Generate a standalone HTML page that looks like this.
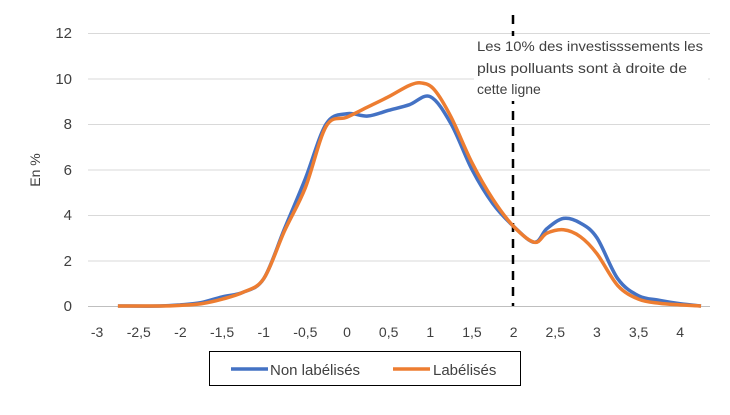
<!DOCTYPE html>
<html><head><meta charset="utf-8"><style>
body{margin:0;background:#fff;width:730px;height:410px;overflow:hidden}
text{font-family:"Liberation Sans",sans-serif;fill:#404040}
</style></head><body>
<svg width="730" height="410" xmlns="http://www.w3.org/2000/svg">
<g stroke="#d9d9d9" stroke-width="1">
<line x1="88" x2="710" y1="33.5" y2="33.5"/><line x1="88" x2="710" y1="79" y2="79"/>
<line x1="88" x2="710" y1="124.5" y2="124.5"/><line x1="88" x2="710" y1="170" y2="170"/>
<line x1="88" x2="710" y1="215.5" y2="215.5"/><line x1="88" x2="710" y1="261" y2="261"/>
</g>
<line x1="88" x2="710" y1="306.5" y2="306.5" stroke="#bfbfbf"/>
<g font-size="15" text-anchor="end">
<text x="72" y="38">12</text><text x="72" y="84">10</text><text x="72" y="129">8</text>
<text x="72" y="175">6</text><text x="72" y="220">4</text><text x="72" y="266">2</text><text x="72" y="311">0</text>
</g>
<text font-size="14" transform="translate(40,170) rotate(-90)" text-anchor="middle">En %</text>
<g font-size="14" text-anchor="middle" id="xt"></g>
<line x1="513" x2="513" y1="15" y2="306" stroke="#000" stroke-width="2.5" stroke-dasharray="9,7"/>
<rect x="474" y="36" width="234" height="65" fill="#fff"/>
<g font-size="14"><text x="477" y="51" textLength="226" lengthAdjust="spacingAndGlyphs">Les 10% des investisssements les</text>
<text x="477" y="73" textLength="210" lengthAdjust="spacingAndGlyphs">plus polluants  sont à droite de</text>
<text x="477" y="94">cette ligne</text></g>
<path id="bl" fill="none" stroke="#4472c4" stroke-width="3.5" stroke-linejoin="round"/>
<path id="or" fill="none" stroke="#ed7d31" stroke-width="3.5" stroke-linejoin="round"/>
<rect x="209.5" y="351.5" width="311" height="34" fill="#fff" stroke="#000"/>
<line x1="231" x2="268" y1="369" y2="369" stroke="#4472c4" stroke-width="3.5"/>
<text x="270" y="375" font-size="15">Non labélisés</text>
<line x1="393" x2="430" y1="369" y2="369" stroke="#ed7d31" stroke-width="3.5"/>
<text x="433" y="375" font-size="15">Labélisés</text>
</svg>
<script>
var X=function(x){return 347+x*83.3},Y=function(y){return 306-y*22.75};
var xt=document.getElementById('xt'),s='';
for(var v=-3;v<=4.01;v+=0.5){s+='<text x="'+X(v)+'" y="337">'+(Math.round(v*10)/10).toString().replace('.',',')+'</text>';}
xt.innerHTML=s;
function path(p){var q=p.map(function(a){return[X(a[0]),Y(a[1])]});var d='M'+q[0][0]+','+q[0][1];
for(var i=0;i<q.length-1;i++){var p0=q[i-1]||q[i],p1=q[i],p2=q[i+1],p3=q[i+2]||p2;
d+='C'+(p1[0]+(p2[0]-p0[0])/6)+','+(p1[1]+(p2[1]-p0[1])/6)+' '+(p2[0]-(p3[0]-p1[0])/6)+','+(p2[1]-(p3[1]-p1[1])/6)+' '+p2[0]+','+p2[1];}return d;}
var b=[[-2.75,0],[-2.25,0],[-2,0.05],[-1.75,0.15],[-1.5,0.4],[-1.25,0.6],[-1,1.2],[-0.75,3.4],[-0.5,5.6],[-0.25,8.0],[0,8.45],[0.25,8.35],[0.5,8.6],[0.75,8.85],[1,9.2],[1.25,8.0],[1.5,6.0],[1.75,4.5],[2,3.5],[2.25,2.8],[2.4,3.4],[2.6,3.85],[2.8,3.65],[3,3.0],[3.25,1.2],[3.5,0.45],[3.75,0.25],[4,0.1],[4.25,0]];
var o=[[-2.75,0],[-2.25,0],[-2,0.03],[-1.75,0.1],[-1.5,0.3],[-1.25,0.6],[-1,1.2],[-0.75,3.3],[-0.5,5.2],[-0.25,7.9],[0,8.3],[0.25,8.75],[0.5,9.2],[0.75,9.7],[0.9,9.8],[1.05,9.5],[1.25,8.3],[1.5,6.3],[1.75,4.7],[2,3.5],[2.25,2.8],[2.4,3.2],[2.6,3.35],[2.8,3.05],[3,2.3],[3.25,0.9],[3.5,0.3],[3.75,0.12],[4,0.05],[4.25,0]];
document.getElementById('bl').setAttribute('d',path(b));
document.getElementById('or').setAttribute('d',path(o));
</script>
</body></html>
